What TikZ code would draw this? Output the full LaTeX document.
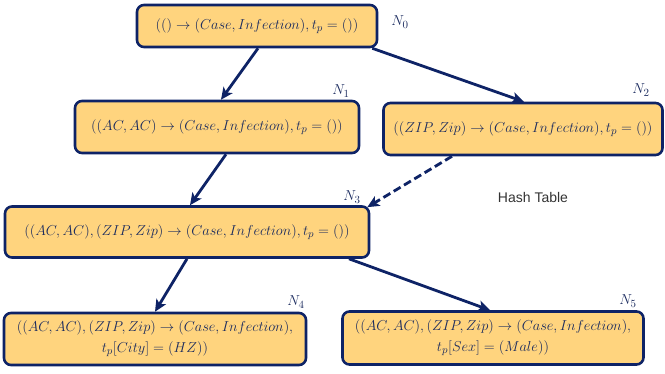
\documentclass[tikz,border=0pt]{standalone}
\usepackage{fontspec}
\newfontfamily\labelfont{Liberation Sans}
\usetikzlibrary{arrows.meta,calc}
\definecolor{navy}{HTML}{0E2366}
\definecolor{boxfill}{HTML}{FFD47E}
\definecolor{txt}{HTML}{1A2A5E}
\begin{document}
\begin{tikzpicture}[x=1pt,y=-1pt,
  fdbox/.style={draw=navy,fill=boxfill,line width=2.6pt,rounded corners=7pt,
    text=txt,inner sep=0pt,align=center,font=\fontsize{15.5}{21}\selectfont},
  lbl/.style={text=txt,font=\fontsize{15}{17}\selectfont},
  conn/.style={draw=navy,line width=2.8pt,-{Stealth[length=12pt,width=11pt,inset=3pt]}},
  dconn/.style={conn,dash pattern=on 8pt off 4pt}]
\useasboundingbox (0,0) rectangle (665,373);
\node[fdbox,minimum width=240pt,minimum height=42pt] (N0) at (257,26)
  {$(()\rightarrow(Case,Infection),t_p=())$};
\node[fdbox,minimum width=284pt,minimum height=52pt] (N1) at (217,127)
  {$((AC,AC)\rightarrow(Case,Infection),t_p=())$};
\node[fdbox,minimum width=279pt,minimum height=52pt] (N2) at (523,129)
  {$((ZIP,Zip)\rightarrow(Case,Infection),t_p=())$};
\node[fdbox,minimum width=364pt,minimum height=51pt] (N3) at (187,232)
  {$((AC,AC),(ZIP,Zip)\rightarrow(Case,Infection),t_p=())$};
\node[fdbox,minimum width=302pt,minimum height=52pt] (N4) at (155,339)
  {$((AC,AC),(ZIP,Zip)\rightarrow(Case,Infection),$\\$t_p[City]=(HZ))$};
\node[fdbox,minimum width=301pt,minimum height=53pt] (N5) at (493,338)
  {$((AC,AC),(ZIP,Zip)\rightarrow(Case,Infection),$\\$t_p[Sex]=(Male))$};
\node[lbl] (L0) at (400,22) {$N_0$};
\node[lbl] (L1) at (341,91) {$N_1$};
\node[lbl] (L2) at (641,90) {$N_2$};
\node[lbl] (L3) at (352,197) {$N_3$};
\node[lbl] (L4) at (296,302) {$N_4$};
\node[lbl] (L5) at (628,301) {$N_5$};
\node[text=black!80,font=\labelfont\fontsize{14}{16}\selectfont] (HT) at (533,197) {Hash Table};
\draw[conn] ($(N0.south)+(1,0)$) -- ($(N1.north)+(4,0)$);
\draw[conn] ($(N0.south east)+(-6,0)$) -- ($(N2.north)+(1,0)$);
\draw[conn] ($(N1.south)+(9,0)$) -- ($(N3.north)+(3,0)$);
\draw[dconn] ($(N2.south)+(-71,0)$) -- ($(N3.north east)+(-3,2)$);
\draw[conn] (N3.south) -- (N4.north);
\draw[conn] ($(N3.south)+(162,0)$) -- ($(N5.north)+(-3,0)$);
\end{tikzpicture}
\end{document}
